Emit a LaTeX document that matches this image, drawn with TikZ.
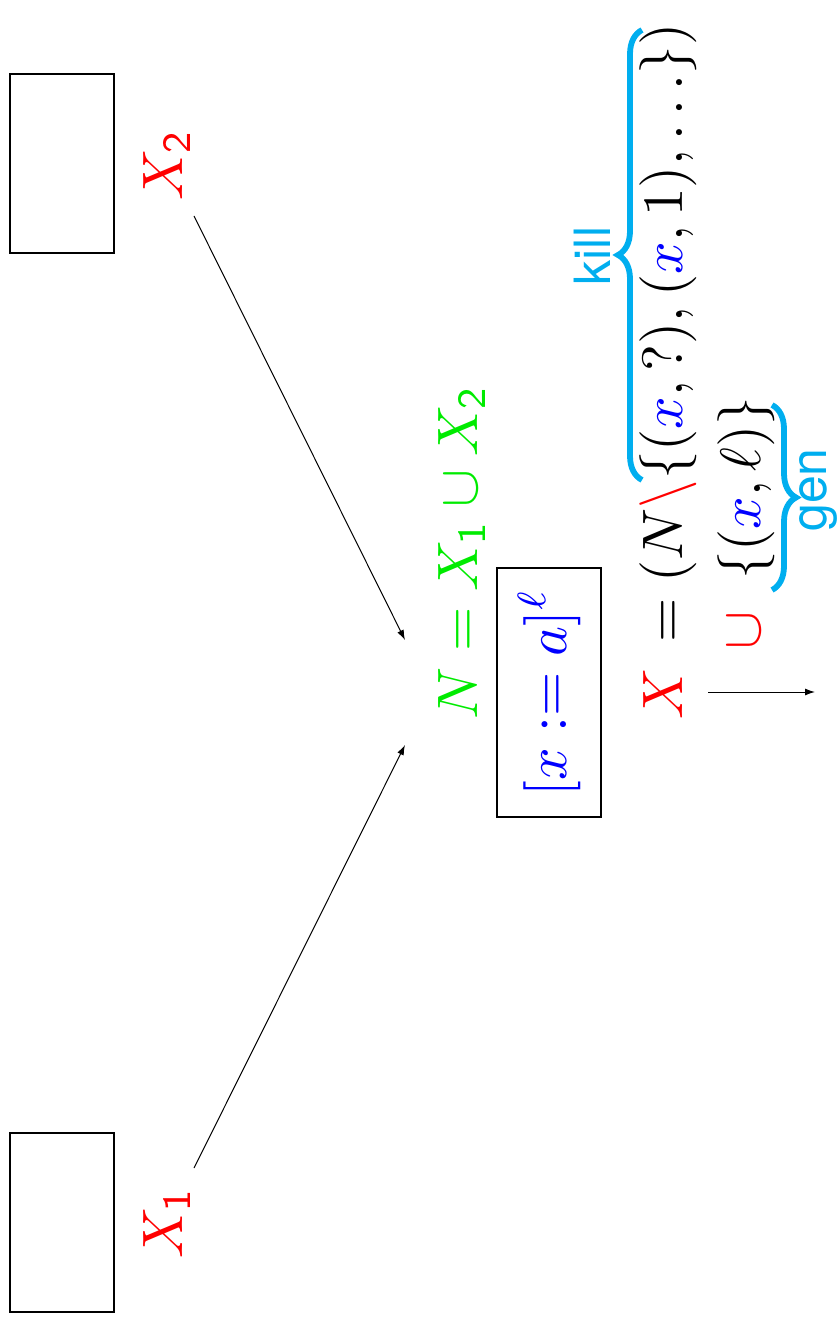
\documentclass[tikz,border=0pt]{standalone}
\usepackage{fix-cm}
\usepackage{amsmath}
\usepackage{graphicx}
\usepackage{fontspec}
\newfontfamily\hel{TeX Gyre Heros}
\usetikzlibrary{decorations.pathreplacing,arrows.meta}
\definecolor{kred}{RGB}{255,0,0}
\definecolor{kgreen}{RGB}{0,235,0}
\definecolor{kblue}{RGB}{0,0,255}
\definecolor{kcyan}{RGB}{0,174,239}
\newcommand\sx[1]{\scalebox{2.85}{\fontsize{10}{12}\selectfont#1}}
\begin{document}
\begin{tikzpicture}[x=0.5pt,y=-0.5pt,
  rot/.style={rotate=90,inner sep=0pt},
  srcbox/.style={draw,line width=0.7pt,minimum width=52pt,minimum height=89.5pt,inner sep=0pt},
  conn/.style={line width=0.5pt,-{Latex[length=5pt,width=3.5pt]}},
  kbrace/.style={decorate,decoration={brace,amplitude=12pt},line width=2.9pt,kcyan},
  blbl/.style={rotate=90,inner sep=0pt,text=kcyan,font=\hel\fontsize{25}{30}\selectfont}]
\useasboundingbox (0,0) rectangle (838,1325);
% source boxes
\node[srcbox] (b2) at (62,163.5) {};
\node[srcbox] (b1) at (62,1222.5) {};
% labels
\node[rot,anchor=base west,text=kred] (X2) at (182,201) {\sx{$X_{\mathsf{2}}$}};
\node[rot,anchor=base west,text=kred] (X1) at (182,1259) {\sx{$X_{\mathsf{1}}$}};
% entry equation
\node[rot,anchor=base west,text=kgreen] (N) at (477,720) {\sx{$N = X_{\mathsf{1}} \cup X_{\mathsf{2}}$}};
% statement box
\node[rot,draw,line width=0.7pt,minimum width=124.5pt,minimum height=52pt,text=kblue] (stmt) at (549,692.5) {\sx{$[x := a]^{\ell}$}};
% exit equation
\node[rot,anchor=base west] (eq1) at (682,720) {\sx{$\textcolor{kred}{X}\mskip3mu = (N\textcolor{kred}{\backslash}\{(\textcolor{kblue}{x},?),(\textcolor{kblue}{x},1),\ldots\})$}};
\node[rot,anchor=base west] (eq2) at (760,650) {\sx{$\textcolor{kred}{\cup}\mskip10mu\{(\textcolor{kblue}{x},\ell)\}$}};
% braces
\coordinate (k1) at (642,480);
\coordinate (k2) at (642,30);
\draw[kbrace] (k1) -- (k2);
\node[blbl] (kill) at (592,256) {kill};
\coordinate (g1) at (772,405);
\coordinate (g2) at (772,590);
\draw[kbrace] (g1) -- (g2);
\node[blbl] (gen) at (818,490) {gen};
% connectors
\coordinate (s2) at (194,216);
\coordinate (s1) at (194,1168);
\coordinate (in2) at (405,640);
\coordinate (in1) at (405,745);
\coordinate (o1) at (708,692);
\coordinate (o2) at (815,692);
\draw[conn] (s2) -- (in2);
\draw[conn] (s1) -- (in1);
\draw[conn] (o1) -- (o2);
\end{tikzpicture}
\end{document}
